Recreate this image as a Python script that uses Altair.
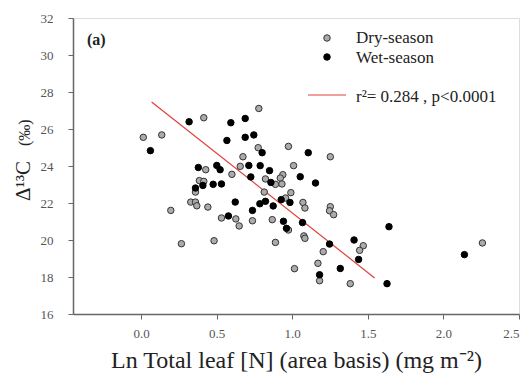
import altair as alt
import pandas as pd

# Dry-season points (Ln total leaf N, Delta 13C)
dry_x = [0.015, 0.137, 0.415, 0.779, 0.775, 0.975, 1.252, 0.674, 0.428, 0.656,
         1.009, 0.601, 0.823, 0.938, 0.921, 0.889, 0.932, 0.386, 0.415, 0.360,
         0.815, 0.991, 0.956, 1.071, 1.084, 1.252, 1.247, 1.274, 0.329, 0.360,
         0.369, 0.442, 0.197, 0.532, 0.627, 0.737, 0.868, 0.649, 0.975, 0.483,
         0.267, 0.889, 1.077, 1.084, 1.470, 1.446, 1.205, 2.258, 1.170, 1.015,
         1.181, 1.384]
dry_y = [25.55, 25.68, 26.61, 27.11, 24.99, 25.06, 24.50, 24.50, 23.80, 23.98,
         24.02, 23.55, 23.30, 23.53, 23.35, 23.01, 23.03, 23.21, 23.17, 22.59,
         22.59, 22.56, 22.27, 22.03, 21.73, 21.80, 21.58, 21.37, 22.05, 22.05,
         21.85, 21.78, 21.60, 21.19, 21.14, 21.04, 21.10, 20.76, 20.54, 19.96,
         19.80, 19.87, 20.22, 20.09, 19.69, 19.44, 19.37, 19.84, 18.74, 18.45,
         17.80, 17.64]

# Wet-season points
wet_x = [0.062, 0.318, 0.594, 0.689, 0.568, 0.689, 0.746, 0.801, 1.106, 0.379,
         0.501, 0.523, 0.713, 0.788, 0.850, 0.726, 1.053, 0.859, 1.154, 0.360,
         0.409, 0.477, 0.532, 0.927, 0.985, 0.823, 0.786, 0.623, 0.874, 0.737,
         0.578, 0.942, 1.068, 0.962, 1.640, 1.409, 1.247, 1.439, 2.139, 1.318,
         1.181, 1.627]
wet_y = [24.83, 26.39, 26.34, 26.57, 25.38, 25.55, 25.68, 24.72, 24.72, 23.92,
         24.03, 23.80, 24.03, 24.02, 23.75, 23.41, 23.42, 23.11, 23.08, 22.81,
         22.95, 23.01, 23.03, 22.18, 22.03, 22.09, 21.96, 22.05, 21.84, 21.60,
         21.30, 21.01, 20.94, 20.63, 20.72, 20.00, 19.78, 18.95, 19.21, 18.46,
         18.12, 17.64]

# Regression line end points
fit_x = [0.07, 1.545]
fit_y = [27.46, 17.95]

x_ticks = [0.0, 0.5, 1.0, 1.5, 2.0, 2.5]
y_ticks = [16, 18, 20, 22, 24, 26, 28, 30, 32]

legend_labels = ["Dry-season", "Wet-season", "r\u00b2= 0.284 , p<0.0001"]
panel_label = "(a)"
x_title = "Ln Total leaf [N] (area basis) (mg m\u207b\u00b2)"
y_title_main = "\u0394\u00b9\u00b3C"
y_title_unit = "(\u2030)"

SERIF = "Liberation Serif"

dry = pd.DataFrame({"x": dry_x, "y": dry_y})
wet = pd.DataFrame({"x": wet_x, "y": wet_y})
fit = pd.DataFrame({"x": fit_x, "y": fit_y})

xscale = alt.Scale(domain=[-0.45, 2.5], nice=False, zero=False)
yscale = alt.Scale(domain=[16, 32], nice=False, zero=False)

xaxis = alt.Axis(values=x_ticks, format=".1f", grid=False, tickSize=5,
                 tickColor="#666", domainColor="#666", domainWidth=1.5,
                 labelColor="#555", labelFont=SERIF, labelFontSize=13,
                 labelPadding=8, labelOverlap=False,
                 title=x_title,
                 titleFont=SERIF, titleFontSize=24, titleFontWeight="normal",
                 titleColor="#222", titleBaseline="alphabetic", titleY=53)
yaxis = alt.Axis(values=y_ticks, format="d", grid=False, tickSize=5,
                 tickColor="#666", domainColor="#666", domainWidth=1.5,
                 labelColor="#555", labelFont=SERIF, labelFontSize=13,
                 labelPadding=15, labelOverlap=False, title=None)

X = alt.X("x:Q", scale=xscale, axis=xaxis)
Y = alt.Y("y:Q", scale=yscale, axis=yaxis)

line = alt.Chart(fit).mark_line(color="#e0403a", strokeWidth=1.2).encode(x=X, y=Y)

pts_dry = alt.Chart(dry).mark_point(
    filled=True, shape="circle", size=42, fill="#ababab", stroke="#333",
    strokeWidth=1, opacity=1
).encode(x=X, y=Y)

pts_wet = alt.Chart(wet).mark_point(
    filled=True, shape="circle", size=42, fill="#000", stroke="#000",
    strokeWidth=1, opacity=1
).encode(x=X, y=Y)

one = pd.DataFrame({"a": [0]})


def txt(label, x, y, size=17, weight="normal", angle=0, baseline="middle"):
    return alt.Chart(pd.DataFrame({"t": [label]})).mark_text(
        align="left", baseline=baseline, font=SERIF, fontSize=size,
        fontWeight=weight, color="#222", angle=angle
    ).encode(text="t:N", x=alt.value(x), y=alt.value(y))


leg_dry = alt.Chart(one).mark_point(
    filled=True, shape="circle", size=42, fill="#ababab", stroke="#333",
    strokeWidth=1, opacity=1).encode(x=alt.value(254), y=alt.value(20))
leg_wet = alt.Chart(one).mark_point(
    filled=True, shape="circle", size=42, fill="#000", stroke="#000",
    strokeWidth=1, opacity=1).encode(x=alt.value(254), y=alt.value(39))
leg_line = alt.Chart(one).mark_rule(color="#e0403a", strokeWidth=1.2).encode(
    x=alt.value(235), x2=alt.value(273), y=alt.value(77))

chart = alt.layer(
    line, pts_dry, pts_wet,
    leg_dry, leg_wet, leg_line,
    txt(legend_labels[0], 283, 20),
    txt(legend_labels[1], 283, 40),
    txt(legend_labels[2], 283, 79),
    txt(panel_label, 14, 22, size=16, weight="bold"),
    txt(y_title_main, -43, 183, size=21, angle=270, baseline="alphabetic"),
    txt(y_title_unit, -43, 128, size=16, angle=270, baseline="alphabetic"),
).properties(
    width=446, height=296,
    autosize=alt.AutoSizeParams(type="none"),
    padding={"left": 73, "top": 18, "right": 11, "bottom": 59},
).configure_view(
    stroke="#666", strokeWidth=1.5
).configure(background="white")

chart.save("out.html", embed_options={"renderer": "svg", "actions": False})
